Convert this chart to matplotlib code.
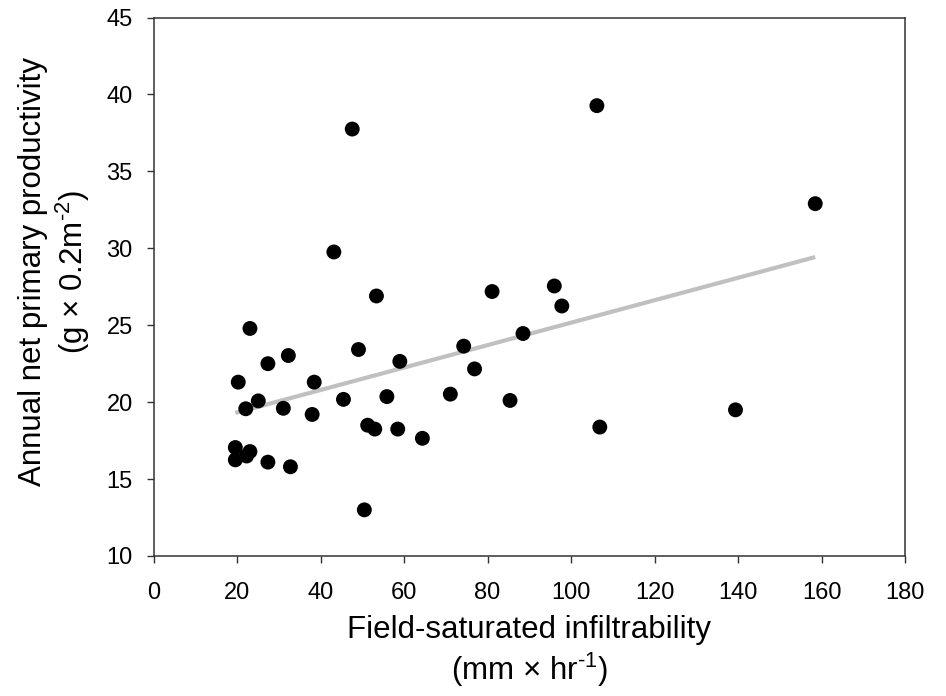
import numpy as np
import matplotlib
matplotlib.use("Agg")
from matplotlib import pyplot as plt

plt.rcParams['font.family'] = ['Liberation Sans', 'DejaVu Sans']
plt.rcParams['mathtext.fontset'] = 'custom'
plt.rcParams['mathtext.rm'] = 'Liberation Sans'

# infiltrability (mm/hr) vs annual NPP (g per 0.2 m2)
infiltrability = [19.6, 19.6, 20.3, 22.1, 22.3, 23.1, 23.1, 25.1, 27.4, 27.4,
                  31.1, 32.3, 32.8, 38.0, 38.5, 43.2, 45.5, 47.6, 49.1, 50.5,
                  51.3, 53.0, 53.4, 55.9, 58.5, 59.0, 64.4, 71.1, 74.3, 76.9,
                  81.1, 85.4, 88.5, 96.0, 97.8, 106.2, 106.9, 139.4, 158.5]
productivity = [17.05, 16.25, 21.3, 19.57, 16.5, 16.79, 24.79, 20.08, 22.5, 16.1,
                19.6, 23.03, 15.8, 19.2, 21.3, 29.76, 20.18, 37.75, 23.42, 13.0,
                18.5, 18.25, 26.9, 20.36, 18.25, 22.65, 17.65, 20.52, 23.64, 22.16,
                27.19, 20.11, 24.46, 27.55, 26.25, 39.27, 18.38, 19.5, 32.9]

# regression line end points
fit_x = [19.6, 158.5]
fit_y = [19.3, 29.43]

x_ticks = list(range(0, 181, 20))
y_ticks = list(range(10, 46, 5))

fig = plt.figure(figsize=(9.46, 6.96), dpi=100)
ax = fig.add_axes([153.5 / 946, 1 - 556 / 696, (905 - 153.5) / 946, (556 - 17.5) / 696])

ax.plot(fit_x, fit_y, color='#c0c0c0', lw=3, solid_capstyle='butt', zorder=2)
ax.scatter(infiltrability, productivity, s=115, color='black', edgecolors='none', zorder=3)

ax.set_xlim(0, 180)
ax.set_ylim(10, 45)
ax.set_xticks(x_ticks)
ax.set_yticks(y_ticks)
ax.tick_params(direction='out', length=5, width=1, labelsize=17, color='#333333')
ax.tick_params(axis='x', pad=14)
ax.tick_params(axis='y', pad=10)
for sp in ax.spines.values():
    sp.set_linewidth(1.1)
    sp.set_color('#333333')

ax.set_xlabel('Field-saturated infiltrability\n(mm × hr$^{\\text{-1}}$)',
              fontsize=22.5, linespacing=1.2, va='center')
ax.xaxis.set_label_coords(0.5, (556 - 652) / 538)
ax.set_ylabel('Annual net primary productivity\n(g × 0.2m$^{\\text{-2}}$)',
              fontsize=22.5, linespacing=1.2, va='center')
ax.yaxis.set_label_coords((55 - 153.5) / 751.5, (556 - 272) / 538)

fig.savefig('out.png', dpi=100)
